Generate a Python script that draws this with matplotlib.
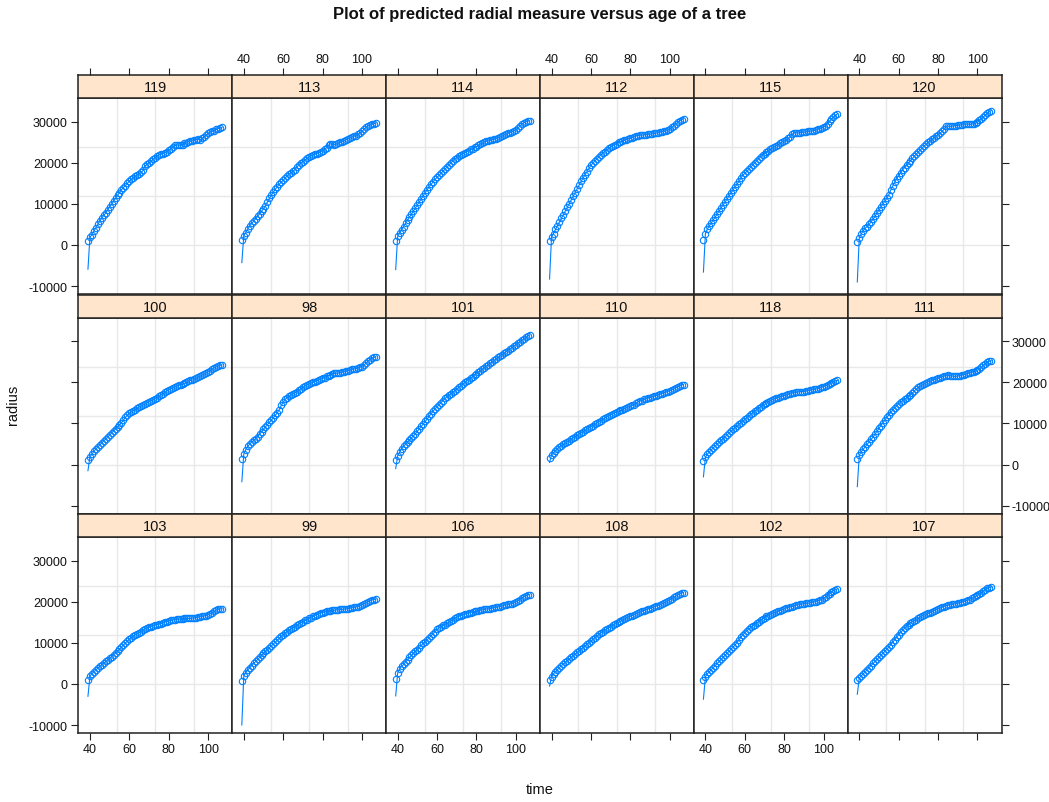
import matplotlib
matplotlib.use("Agg")
import matplotlib.pyplot as plt

# Age of the tree (years) at each measurement
time = [39, 40, 41, 42, 43, 44, 45, 46, 47, 48,
        49, 50, 51, 52, 53, 54, 55, 56, 57, 58,
        59, 60, 61, 62, 63, 64, 65, 66, 67, 68,
        69, 70, 71, 72, 73, 74, 75, 76, 77, 78,
        79, 80, 81, 82, 83, 84, 85, 86, 87, 88,
        89, 90, 91, 92, 93, 94, 95, 96, 97, 98,
        99, 100, 101, 102, 103, 104, 105, 106, 107]

# Observed radial measure per tree, one value per year
r119 = [900, 1900, 2500, 3400, 4200, 5000, 5800, 6600, 7200, 7800,
        8500, 9300, 9900, 10700, 11400, 12100, 12800, 13500, 14000, 14500,
        15000, 15600, 16000, 16300, 16800, 17000, 17400, 17700, 18200, 19300,
        19700, 20000, 20400, 20900, 21200, 21700, 22000, 22100, 22300, 22500,
        22800, 23100, 23400, 24000, 24300, 24400, 24400, 24300, 24500, 24800,
        24900, 25200, 25300, 25400, 25500, 25700, 25800, 25700, 26000, 26400,
        26800, 27200, 27500, 27700, 27900, 28200, 28400, 28500, 28700]
r113 = [1200, 2300, 3000, 3900, 4600, 5300, 5800, 6400, 7000, 7600,
        8200, 8900, 9600, 10500, 11400, 12200, 12900, 13600, 14200, 14800,
        15300, 15800, 16300, 16900, 17300, 17600, 18000, 18400, 19000, 19600,
        20100, 20300, 20700, 21100, 21400, 21700, 21900, 22100, 22300, 22500,
        22700, 23000, 23300, 23700, 24300, 24700, 24600, 24500, 24600, 24800,
        25000, 25200, 25400, 25700, 25900, 26100, 26300, 26500, 26700, 27000,
        27300, 27700, 28200, 28700, 29000, 29200, 29400, 29600, 29700]
r114 = [1000, 2100, 2900, 3700, 4500, 5300, 6000, 6800, 7500, 8300,
        9000, 9800, 10500, 11300, 12000, 12800, 13500, 14200, 14800, 15400,
        16000, 16500, 17000, 17500, 18000, 18500, 19000, 19500, 20000, 20600,
        21000, 21300, 21600, 21900, 22200, 22500, 22800, 23000, 23300, 23500,
        23800, 24000, 24300, 24600, 24800, 25100, 25300, 25400, 25500, 25700,
        25800, 25900, 26100, 26300, 26500, 26800, 27000, 27200, 27400, 27600,
        27800, 28100, 28500, 29000, 29500, 29800, 30100, 30200, 30300]
r112 = [1000, 2000, 2800, 3800, 4700, 5600, 6500, 7400, 8300, 9200,
        10100, 11000, 11900, 12800, 13700, 14600, 15500, 16300, 17100, 17900,
        18700, 19400, 20000, 20500, 21000, 21500, 22000, 22400, 22800, 23200,
        23600, 23900, 24200, 24500, 24700, 25000, 25200, 25300, 25500, 25700,
        25900, 26000, 26200, 26400, 26600, 26700, 26800, 26800, 26900, 26900,
        27000, 27000, 27100, 27200, 27300, 27400, 27500, 27600, 27700, 27800,
        28000, 28300, 28700, 29100, 29500, 29900, 30300, 30600, 30800]
r115 = [1300, 2800, 3900, 4700, 5400, 6100, 6800, 7600, 8300, 9100,
        9800, 10500, 11200, 12000, 12700, 13400, 14100, 14800, 15500, 16300,
        17000, 17500, 18000, 18500, 19000, 19500, 20000, 20500, 21000, 21500,
        22000, 22300, 22600, 23000, 23300, 23600, 23900, 24200, 24500, 24800,
        25100, 25300, 25600, 26000, 26400, 27000, 27300, 27400, 27300, 27400,
        27500, 27500, 27600, 27700, 27800, 27800, 27900, 28000, 28200, 28300,
        28500, 28800, 29100, 29600, 30200, 30700, 31200, 31600, 32000]
r120 = [800, 1800, 2700, 3500, 4100, 4500, 5000, 5700, 6300, 7000,
        7800, 8500, 9300, 10000, 10700, 11400, 12300, 13400, 14400, 15300,
        16200, 16900, 17600, 18300, 18900, 19400, 20000, 20600, 21100, 21700,
        22200, 22700, 23200, 23700, 24200, 24600, 25000, 25400, 25800, 26200,
        26600, 26900, 27300, 27700, 28200, 29000, 29000, 28900, 29000, 29100,
        29100, 29200, 29200, 29300, 29400, 29500, 29500, 29400, 29500, 29600,
        29700, 30000, 30500, 30800, 31200, 31700, 32200, 32500, 32800]
r100 = [1000, 1900, 2500, 3200, 3800, 4300, 4800, 5300, 5800, 6200,
        6700, 7200, 7700, 8200, 8700, 9200, 9700, 10200, 10800, 11500,
        12000, 12500, 12800, 13100, 13400, 13700, 14000, 14200, 14500, 14700,
        15000, 15300, 15500, 15700, 16000, 16300, 16600, 16900, 17200, 17600,
        17900, 18200, 18500, 18600, 18800, 19100, 19300, 19400, 19600, 19800,
        20000, 20300, 20500, 20600, 20800, 21000, 21300, 21500, 21800, 22000,
        22300, 22600, 22900, 23200, 23500, 23800, 24000, 24200, 24300]
r98 = [1300, 2600, 3600, 4400, 5000, 5500, 5900, 6300, 6800, 7400,
       8000, 8600, 9200, 9700, 10300, 10800, 11400, 12000, 12600, 13400,
       14400, 15200, 15900, 16300, 16600, 16900, 17200, 17500, 17800, 18200,
       18500, 18800, 19100, 19400, 19600, 19800, 20000, 20200, 20400, 20600,
       20800, 21000, 21200, 21500, 21700, 21900, 22100, 22200, 22300, 22300,
       22400, 22500, 22600, 22700, 22900, 23000, 23200, 23300, 23400, 23500,
       23700, 23900, 24300, 24700, 25200, 25600, 25900, 26100, 26300]
r101 = [1000, 2100, 3000, 3800, 4400, 5000, 5500, 6000, 6500, 7000,
        7500, 8100, 8700, 9300, 9900, 10500, 11100, 11800, 12400, 13000,
        13600, 14100, 14600, 15100, 15600, 16100, 16500, 16900, 17300, 17600,
        18000, 18400, 18800, 19200, 19600, 20000, 20400, 20700, 21100, 21400,
        21800, 22100, 22500, 22800, 23200, 23600, 24000, 24300, 24700, 25000,
        25400, 25700, 26100, 26400, 26800, 27100, 27500, 27800, 28200, 28500,
        28900, 29200, 29600, 29900, 30300, 30600, 31000, 31300, 31600]
r110 = [1500, 2300, 2900, 3400, 3900, 4300, 4600, 4900, 5200, 5500,
        5800, 6200, 6500, 6800, 7100, 7400, 7700, 8000, 8300, 8600,
        8900, 9200, 9500, 9800, 10100, 10400, 10700, 11000, 11300, 11600,
        11800, 12100, 12300, 12600, 12800, 13000, 13200, 13400, 13600, 13800,
        14000, 14200, 14400, 14600, 14900, 15300, 15500, 15600, 15900, 16000,
        16200, 16300, 16500, 16600, 16800, 16900, 17100, 17300, 17500, 17600,
        17800, 18000, 18200, 18400, 18700, 18900, 19200, 19400, 19500]
r118 = [800, 1800, 2500, 3100, 3600, 4100, 4500, 5000, 5400, 5900,
        6300, 6800, 7200, 7700, 8100, 8600, 9000, 9400, 9800, 10200,
        10600, 11000, 11400, 11800, 12200, 12600, 13000, 13400, 13700, 14100,
        14400, 14700, 15000, 15300, 15500, 15800, 16000, 16100, 16300, 16500,
        16600, 16800, 16900, 17100, 17200, 17400, 17500, 17600, 17700, 17800,
        17800, 17800, 17900, 18000, 18100, 18200, 18300, 18400, 18500, 18700,
        18800, 19000, 19200, 19400, 19700, 19900, 20200, 20400, 20500]
r111 = [1300, 2300, 3100, 3700, 4300, 4900, 5500, 6100, 6700, 7400,
        8100, 8800, 9500, 10200, 10800, 11500, 12100, 12700, 13300, 13800,
        14300, 14800, 15200, 15600, 15900, 16200, 16600, 17000, 17400, 18000,
        18400, 18800, 19100, 19400, 19600, 19900, 20200, 20300, 20500, 20700,
        20800, 21000, 21200, 21400, 21500, 21700, 21800, 21700, 21600, 21500,
        21500, 21600, 21700, 21800, 21900, 22000, 22200, 22300, 22500, 22600,
        22800, 23000, 23300, 23700, 24200, 24600, 25000, 25200, 25300]
r103 = [1000, 1900, 2500, 3000, 3400, 3900, 4300, 4700, 5100, 5500,
        5900, 6300, 6700, 7100, 7600, 8000, 8500, 9000, 9500, 10000,
        10500, 10900, 11300, 11700, 12000, 12200, 12500, 12800, 13100, 13400,
        13600, 13800, 14000, 14200, 14300, 14500, 14600, 14700, 14900, 15100,
        15200, 15400, 15500, 15600, 15700, 15800, 15800, 15900, 15900, 16000,
        16000, 16000, 16000, 16100, 16100, 16200, 16300, 16400, 16500, 16600,
        16700, 16900, 17100, 17400, 17700, 18000, 18200, 18300, 18400]
r99 = [800, 2000, 2800, 3400, 4000, 4500, 5000, 5500, 6000, 6500,
       7000, 7500, 8000, 8400, 8900, 9300, 9800, 10200, 10700, 11100,
       11600, 12000, 12400, 12800, 13100, 13400, 13700, 14000, 14300, 14600,
       14900, 15200, 15500, 15700, 16000, 16200, 16500, 16700, 16900, 17100,
       17300, 17400, 17600, 17700, 17800, 17900, 18000, 18000, 18100, 18100,
       18200, 18200, 18300, 18300, 18400, 18500, 18600, 18700, 18800, 18900,
       19100, 19300, 19500, 19700, 20000, 20300, 20500, 20600, 20700]
r106 = [1200, 2700, 3700, 4300, 4800, 5400, 5900, 6500, 7000, 7500,
        8000, 8400, 8900, 9400, 9900, 10300, 10800, 11300, 11800, 12300,
        12800, 13300, 13700, 14000, 14300, 14500, 14800, 15000, 15300, 15700,
        16000, 16300, 16500, 16700, 16800, 17000, 17100, 17300, 17400, 17600,
        17700, 17800, 17900, 18000, 18100, 18200, 18300, 18300, 18400, 18500,
        18600, 18700, 18800, 18900, 19000, 19200, 19300, 19400, 19500, 19600,
        19800, 20000, 20300, 20600, 21000, 21300, 21500, 21700, 21800]
r108 = [1000, 1800, 2500, 3000, 3500, 4000, 4500, 4900, 5300, 5700,
        6100, 6500, 6900, 7300, 7700, 8100, 8500, 8900, 9300, 9700,
        10100, 10500, 10900, 11300, 11700, 12100, 12500, 12800, 13100, 13400,
        13700, 14000, 14300, 14600, 14800, 15100, 15300, 15600, 15800, 16100,
        16300, 16500, 16700, 16900, 17100, 17300, 17500, 17700, 17900, 18100,
        18300, 18400, 18600, 18800, 19000, 19100, 19300, 19500, 19700, 19900,
        20200, 20500, 20800, 21100, 21400, 21700, 22000, 22200, 22300]
r102 = [1000, 1800, 2500, 3000, 3500, 4000, 4500, 5000, 5500, 6000,
        6500, 7000, 7500, 8000, 8500, 9000, 9500, 10100, 10700, 11400,
        12000, 12500, 13000, 13400, 13800, 14200, 14500, 14900, 15200, 15600,
        15900, 16200, 16500, 16700, 16900, 17100, 17300, 17500, 17700, 17900,
        18100, 18300, 18500, 18600, 18800, 18900, 19000, 19200, 19300, 19400,
        19500, 19600, 19700, 19700, 19800, 19900, 20000, 20100, 20300, 20400,
        20600, 20900, 21200, 21600, 22000, 22400, 22800, 23000, 23200]
r107 = [1000, 1500, 2000, 2500, 3000, 3500, 4000, 4500, 5000, 5500,
        6000, 6500, 7000, 7500, 8000, 8500, 9000, 9600, 10200, 10800,
        11400, 12000, 12600, 13100, 13600, 14100, 14500, 14900, 15200, 15400,
        15700, 16000, 16300, 16600, 16800, 17000, 17200, 17400, 17600, 17900,
        18100, 18300, 18500, 18700, 18900, 19100, 19200, 19300, 19400, 19500,
        19600, 19700, 19800, 20000, 20100, 20300, 20400, 20600, 20900, 21100,
        21400, 21700, 22000, 22300, 22700, 23000, 23300, 23500, 23700]

# First predicted value of each tree (later predictions follow the observations)
pred_start = {"119": -5900, "113": -4300, "114": -6000, "112": -8300, "115": -6600,
              "120": -9000, "100": -1500, "98": -4200, "101": -1000, "110": 500,
              "118": -3000, "111": -5400, "103": -3000, "99": -10000, "106": -2900,
              "108": -500, "102": -3700, "107": -2500}

observed = {"119": r119, "113": r113, "114": r114, "112": r112, "115": r115,
            "120": r120, "100": r100, "98": r98, "101": r101, "110": r110,
            "118": r118, "111": r111, "103": r103, "99": r99, "106": r106,
            "108": r108, "102": r102, "107": r107}

layout = [["119", "113", "114", "112", "115", "120"],
          ["100", "98", "101", "110", "118", "111"],
          ["103", "99", "106", "108", "102", "107"]]

x_ticks = [40, 60, 80, 100]
y_ticks = [-10000, 0, 10000, 20000, 30000]
y_tick_labels = ["-10000", "0", "10000", "20000", "30000"]

plt.rcParams["font.family"] = ["Liberation Sans", "DejaVu Sans"]

W, H = 1049, 803
fig = plt.figure(figsize=(W / 100, H / 100), dpi=100)
fig.patch.set_facecolor("white")

XLIM = (34.1, 112.2)
YLIM = (-11950, 35850)
BLUE = "#0080ff"
STRIP = "#ffe5cc"
FRAME = "#222222"
GRID = "#e8e8e8"
TXT = "#111111"

left0, pw = 78.3, 153.87
ph, sh, pitch = 196.0, 23.0, 219.5

for r in range(3):
    for c in range(6):
        key = layout[r][c]
        left = left0 + c * pw
        ptop = 99 + r * pitch
        ax = fig.add_axes([left / W, 1 - (ptop + ph) / H, pw / W, ph / H])
        sx = fig.add_axes([left / W, 1 - ptop / H, pw / W, sh / H])

        # panel
        ax.set_xlim(*XLIM)
        ax.set_ylim(*YLIM)
        for f in (0.25, 0.5, 0.75):
            ax.plot([f, f], [0, 1], transform=ax.transAxes, color=GRID, lw=1.0, zorder=0)
            ax.plot([0, 1], [f, f], transform=ax.transAxes, color=GRID, lw=1.0, zorder=0)
        obs = observed[key]
        pred = [pred_start[key]] + obs[1:]
        ax.plot(time, pred, color=BLUE, lw=0.8, zorder=2)
        ax.plot(time, obs, "o", mfc="none", mec=BLUE, ms=4.6, mew=0.8, zorder=3)
        for sp in ax.spines.values():
            sp.set_color(FRAME)
            sp.set_linewidth(1.1)
        ax.set_xticks(x_ticks)
        ax.set_yticks(y_ticks)
        ax.set_yticklabels(y_tick_labels)
        ax.tick_params(direction="out", length=5, width=0.8, color=FRAME,
                       labelsize=9, pad=2.5, labelcolor=TXT)
        if r == 2:
            ax.tick_params(axis="x", bottom=True, labelbottom=(c % 2 == 0),
                           top=False, labeltop=False)
        else:
            ax.tick_params(axis="x", bottom=False, labelbottom=False,
                           top=False, labeltop=False)
        if c == 0:
            ax.tick_params(axis="y", left=True, labelleft=(r != 1),
                           right=False, labelright=False)
        elif c == 5:
            ax.tick_params(axis="y", right=True, labelright=(r == 1),
                           left=False, labelleft=False)
        else:
            ax.tick_params(axis="y", left=False, labelleft=False,
                           right=False, labelright=False)

        # strip
        sx.set_facecolor(STRIP)
        sx.set_xlim(*XLIM)
        sx.set_ylim(0, 1)
        sx.set_yticks([])
        for sp in sx.spines.values():
            sp.set_color(FRAME)
            sp.set_linewidth(1.1)
        sx.text(0.5, 0.47, key, transform=sx.transAxes, ha="center", va="center",
                fontsize=10.5, color=TXT)
        if r == 0:
            sx.set_xticks(x_ticks)
            sx.tick_params(axis="x", direction="out", length=5, width=0.8, color=FRAME,
                           top=True, labeltop=(c % 2 == 1), bottom=False,
                           labelbottom=False, labelsize=9, pad=2.5, labelcolor=TXT)
        else:
            sx.set_xticks([])

fig.text(540 / W, 1 - 15 / H, "Plot of predicted radial measure versus age of a tree",
         ha="center", va="center", fontsize=12, fontweight="bold", color=TXT)
fig.text(13 / W, 1 - 405 / H, "radius", rotation=90, ha="center", va="center",
         fontsize=10.5, color=TXT)
fig.text(540 / W, 1 - 790 / H, "time", ha="center", va="center",
         fontsize=10.5, color=TXT)

fig.savefig("out.png", dpi=100)
